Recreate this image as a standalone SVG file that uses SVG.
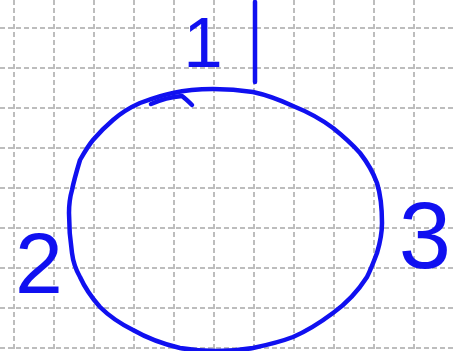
<svg xmlns="http://www.w3.org/2000/svg" width="453" height="351" viewBox="0 0 453 351">
<style>
.grid line{stroke:#a8a8a8;stroke-width:1.5;stroke-dasharray:5 3;}
.ink{fill:none;stroke:#1010f0;stroke-width:4.5;stroke-linecap:round;stroke-linejoin:round;}
.lbl{font-family:"Liberation Sans",Arial,sans-serif;fill:#1010f0;text-anchor:middle;}
</style>
<rect width="453" height="351" fill="#ffffff"/>
<g class="grid" id="grid">
<line x1="14" y1="0" x2="14" y2="351"/>
<line x1="54" y1="0" x2="54" y2="351"/>
<line x1="94" y1="0" x2="94" y2="351"/>
<line x1="134" y1="0" x2="134" y2="351"/>
<line x1="174" y1="0" x2="174" y2="351"/>
<line x1="214" y1="0" x2="214" y2="351"/>
<line x1="254" y1="0" x2="254" y2="351"/>
<line x1="294" y1="0" x2="294" y2="351"/>
<line x1="334" y1="0" x2="334" y2="351"/>
<line x1="374" y1="0" x2="374" y2="351"/>
<line x1="414" y1="0" x2="414" y2="351"/>
<line x1="0" y1="28" x2="453" y2="28"/>
<line x1="0" y1="68" x2="453" y2="68"/>
<line x1="0" y1="108" x2="453" y2="108"/>
<line x1="0" y1="148" x2="453" y2="148"/>
<line x1="0" y1="188" x2="453" y2="188"/>
<line x1="0" y1="228" x2="453" y2="228"/>
<line x1="0" y1="268" x2="453" y2="268"/>
<line x1="0" y1="308" x2="453" y2="308"/>
<line x1="0" y1="348" x2="453" y2="348"/>
</g>
<g id="circle">
<path class="ink" d="M173,93 C186,90 200,89 213,89 C228,89 240,90 253,92 C267,95 280,100 293,106 C308,112 321,119 333,128 C343,136 352,144 360,153 C367,162 373,172 377,183 C381,196 382,210 382,223 C382,233 380,243 377,253 C374,261 371,269 367,277 C358,291 347,303 333,313 C321,322 307,331 293,337 C280,342 267,345 253,348 C229,352 204,352 180,348 C163,344 147,338 133,330 C121,324 109,316 100,307 C92,298 85,288 80,277 C76,270 73,261 72,253 C70,240 69,226 69,213 C69,205 70,197 72,190 C74,180 77,170 80,160 C84,153 88,146 93,140 C99,133 106,126 113,120 C121,113 131,107 140,103 C151,99 162,95 173,93"/>
<path class="ink" d="M151,104 C160,100 170,97 182,96 C186,99 189,102 192,105"/>
<path class="ink" d="M255,2 L255,82"/>
</g>
<g id="labels">
<text class="lbl" x="203" y="67" font-size="71">1</text>
<text class="lbl" x="39" y="293" font-size="86">2</text>
<text class="lbl" x="425" y="268" font-size="94">3</text>
</g>
</svg>
